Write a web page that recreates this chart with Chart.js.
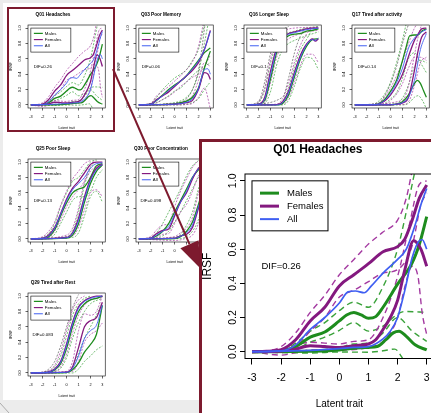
<!DOCTYPE html>
<html>
<head>
<meta charset="utf-8">
<title>IRSF by sex</title>
<script src="https://cdn.jsdelivr.net/npm/chart.js@4.4.1/dist/chart.umd.min.js"></script>
<style>
  html, body { margin: 0; padding: 0; background: #ececec; }
  #stage { position: relative; width: 431px; height: 413px; overflow: hidden; background: #ececec; }
  #sheet { position: absolute; left: 3px; top: 3px; width: 428px; height: 397px; background: #fff; }
  .cell { position: absolute; width: 108px; height: 134px; }
  .cell canvas { filter: blur(0.3px); }
  #pick { position: absolute; left: 7px; top: 7px; width: 104px; height: 121px; border: 2px solid #7d1a2e; }
  #focus { position: absolute; left: 199px; top: 139px; width: 240px; height: 280px;
           border-left: 3px solid #7d1a2e; border-top: 3px solid #7d1a2e; background: #fff; }
  #focus canvas { position: absolute; left: 0; top: 0; }
  #marks { position: absolute; left: 0; top: 0; }
</style>
</head>
<body>
<div id="stage">
  <div id="sheet"></div>
  <div id="cells"></div>
  <div id="pick"></div>
  <div id="focus"><canvas id="big" width="240" height="271"></canvas></div>
  <svg id="marks" width="431" height="413">
    <line x1="113" y1="69" x2="189.5" y2="244.2" stroke="#7d1a2e" stroke-width="2"/>
    <polygon points="200,268 198.6,240.2 180.4,248.2" fill="#7d1a2e"/>
    <line x1="0" y1="403" x2="9" y2="413" stroke="#9a9a9a" stroke-width="0.8"/>
  </svg>
</div>
<script>
// axis ticks shared by every panel
const xTicks = [-3, -2, -1, 0, 1, 2, 3];
const yTicks = [0, 0.2, 0.4, 0.6, 0.8, 1.0];
const groupNames = ['Males', 'Females', 'All'];

const itemTitles = ['Q01 Headaches', 'Q03 Poor Memory', 'Q16 Longer Sleep', 'Q17 Tired after activity',
                    'Q25 Poor Sleep', 'Q30 Poor Concentration', 'Q29 Tired after Rest'];
const difLabels = ['DIF=0.26', 'DIF=0.06', 'DIF=0.1', 'DIF=0.14', 'DIF=0.13', 'DIF=0.098', 'DIF=0.083'];

// each curve is a list of [latent trait, IRSF] points; two curves per group (upper / lower step)
const q01Males = [
  [[-3,0],[-2.5,0.001],[-2,0.006],[-1.5,0.03],[-1,0.085],[-0.5,0.115],[0,0.18],[0.25,0.215],[0.5,0.23],[0.75,0.215],[1,0.195],[1.25,0.205],[1.5,0.26],[2,0.395],[2.5,0.52],[2.75,0.63],[3,0.79]],
  [[-3,0],[-1,0.002],[0,0.01],[0.5,0.02],[1,0.025],[1.3,0.03],[1.6,0.07],[1.85,0.11],[2.05,0.12],[2.3,0.09],[2.6,0.04],[3,0.01]]
];
const q01Females = [
  [[-3,0],[-2.5,0.002],[-2,0.012],[-1.5,0.07],[-1,0.18],[-0.5,0.26],[0,0.385],[0.5,0.45],[1,0.515],[1.5,0.585],[2,0.615],[2.25,0.66],[2.5,0.77],[2.75,0.9],[3,0.975]],
  [[-3,0],[-2,0.004],[-1.5,0.015],[-1,0.035],[-0.5,0.03],[0,0.025],[0.5,0.035],[1,0.045],[1.25,0.07],[1.5,0.13],[1.75,0.2],[2,0.3],[2.25,0.48],[2.55,0.65],[2.8,0.6],[3,0.5]]
];
const q01All = [
  [[-3,0],[-2,0.005],[-1.5,0.04],[-1,0.13],[-0.5,0.2],[0,0.285],[0.3,0.35],[0.55,0.355],[0.85,0.345],[1.1,0.385],[1.5,0.46],[2,0.54],[2.3,0.6],[2.6,0.74],[2.8,0.86],[3,0.955]],
  [[-3,0],[-1,0.008],[0,0.018],[0.5,0.025],[1,0.03],[1.5,0.075],[1.75,0.12],[2,0.2],[2.25,0.36],[2.5,0.55],[2.75,0.65],[2.85,0.655],[3,0.6]]
];
const q01MalesCI = [
  [[-3,0],[-2,0.006],[-1.5,0.05],[-1,0.12],[-0.5,0.17],[0,0.24],[0.5,0.29],[1,0.26],[1.5,0.38],[2,0.6],[2.3,0.82],[2.6,1.06]],
  [[-3,0],[-2,0],[-1.5,0.015],[-1,0.055],[-0.5,0.085],[0,0.125],[0.5,0.17],[1,0.12],[1.5,0.15],[2,0.22],[2.25,0.235],[3,0.23]],
  [[-3,0],[-1,0.006],[0,0.025],[0.5,0.045],[1,0.05],[1.5,0.11],[2,0.2],[2.5,0.12],[3,0.06]],
  [[-3,0],[-1,-0.008],[0,-0.002],[1,-0.003],[1.5,0.005],[1.9,0.015],[2.25,-0.06]]
];
const q01FemalesCI = [
  [[-3,0],[-2.5,0.005],[-2,0.03],[-1.5,0.11],[-1,0.23],[-0.5,0.33],[0,0.45],[0.5,0.54],[1,0.63],[1.5,0.7],[2,0.77],[2.3,0.9],[2.5,1.06]],
  [[-3,0],[-2,-0.005],[-1.5,0.03],[-1,0.12],[-0.5,0.2],[0,0.32],[0.5,0.36],[1,0.41],[1.5,0.46],[2,0.48],[2.5,0.62],[2.8,0.86],[3,0.93]],
  [[-3,0],[-2,0.012],[-1,0.055],[0,0.045],[0.5,0.06],[1,0.07],[1.5,0.2],[2,0.44],[2.4,0.74],[2.75,0.98],[3,1.0]],
  [[-3,0],[-2,-0.02],[-1,0.01],[0,0.01],[1,0.025],[1.5,0.06],[2,0.2],[2.25,0.38],[2.5,0.5],[2.7,0.44],[2.85,0.22],[3,0.1]]
];
const q01AllCI = [];

const q03Males = [
  [[-3,0],[-2,0.01],[-1.5,0.06],[-1,0.13],[-0.5,0.2],[0,0.26],[0.5,0.31],[1,0.38],[1.5,0.48],[2,0.58],[2.5,0.68],[3,0.74]],
  [[-3,0],[-1,0.005],[0,0.015],[0.5,0.03],[1,0.05],[1.5,0.1],[2,0.22],[2.5,0.48],[3,0.7]]
];
const q03Females = [
  [[-3,0],[-2,0.01],[-1.5,0.07],[-1,0.12],[-0.5,0.17],[0,0.24],[0.5,0.31],[1,0.38],[1.5,0.45],[2,0.55],[2.5,0.72],[3,0.97]],
  [[-3,0],[-1,0.005],[0,0.01],[1,0.03],[1.5,0.06],[2,0.2],[2.5,0.42],[2.8,0.4],[3,0.33]]
];
const q03All = [
  [[-3,0],[-2,0.01],[-1.5,0.06],[-1,0.12],[-0.5,0.19],[0,0.25],[0.5,0.31],[1,0.38],[1.5,0.47],[2,0.57],[2.5,0.72],[3,0.96]],
  [[-3,0],[-1,0.005],[0,0.01],[1,0.035],[1.5,0.08],[2,0.21],[2.5,0.46],[2.8,0.47],[3,0.4]]
];
const q03MalesCI = [
  [[-3,0],[-2,0.02],[-1.5,0.1],[-1,0.2],[-0.5,0.28],[0,0.35],[0.5,0.4],[1,0.46],[1.5,0.58],[2,0.72],[2.5,1.05]],
  [[-3,0],[-2,0],[-1.5,0.03],[-1,0.07],[-0.5,0.12],[0,0.18],[0.5,0.22],[1,0.3],[1.5,0.38],[2,0.45],[2.5,0.5],[3,0.55]],
  [[-3,0],[0,0.03],[1,0.1],[1.5,0.2],[2,0.42],[2.5,0.8],[2.8,1.05]],
  [[-3,0],[0,0],[1,0.01],[1.5,0.03],[2,0.08],[2.5,0.2],[3,0.3]]
];
const q03FemalesCI = [
  [[-3,0],[-2,0.02],[-1.5,0.12],[-1,0.18],[-0.5,0.24],[0,0.31],[0.5,0.38],[1,0.46],[1.5,0.56],[2,0.76],[2.4,1.05]],
  [[-3,0],[-1.5,0.03],[-1,0.07],[-0.5,0.11],[0,0.17],[0.5,0.24],[1,0.3],[1.5,0.36],[2,0.4],[2.5,0.5],[3,0.65]],
  [[-3,0],[0,0.02],[1,0.06],[1.5,0.12],[2,0.32],[2.5,0.55],[3,0.5]],
  [[-3,0],[0,0],[1,0.005],[1.5,0.02],[2,0.1],[2.5,0.22],[3,-0.05]]
];
const q03AllCI = [
  [[-3,0],[0,0.02],[1,0.08],[1.5,0.2],[2,0.45],[2.3,0.75],[2.55,1.05]]
];

const q16Males = [
  [[-3,0],[-2.5,0],[-2,0.01],[-1.5,0.06],[-1,0.35],[-0.5,0.68],[0,0.84],[0.5,0.9],[1,0.92],[1.5,0.93],[2,0.96],[2.5,0.97],[3,0.99]],
  [[-3,0],[-0.5,0],[0,0.02],[0.5,0.13],[1,0.37],[1.5,0.6],[2,0.76],[2.5,0.85],[3,0.86]]
];
const q16Females = [
  [[-3,0],[-2,0.01],[-1.5,0.1],[-1,0.45],[-0.5,0.74],[0,0.87],[0.5,0.93],[1,0.95],[1.5,0.97],[2,0.99],[2.5,1.0],[3,1.0]],
  [[-3,0],[-0.5,0.005],[0,0.04],[0.5,0.18],[1,0.43],[1.5,0.65],[2,0.79],[2.5,0.86],[2.75,0.83],[3,0.86]]
];
const q16All = [
  [[-3,0],[-2,0.01],[-1.5,0.08],[-1,0.4],[-0.5,0.71],[0,0.86],[0.5,0.92],[1,0.94],[1.5,0.96],[2,0.98],[2.5,0.99],[3,1.0]],
  [[-3,0],[-0.5,0],[0,0.03],[0.5,0.16],[1,0.4],[1.5,0.62],[2,0.78],[2.5,0.85],[2.75,0.84],[3,0.87]]
];
const q16MalesCI = [
  [[-3,0],[-2.5,0.003],[-2,0.03],[-1.5,0.2],[-1,0.55],[-0.5,0.8],[0,0.9],[1,0.96],[2,1.0],[3,1.02]],
  [[-3,0],[-2,0],[-1.5,0.02],[-1,0.18],[-0.5,0.52],[0,0.72],[0.5,0.8],[1,0.84],[2,0.9],[3,0.95]],
  [[-3,0],[-0.5,0.005],[0,0.05],[0.5,0.22],[1,0.5],[1.5,0.72],[2,0.85],[2.5,0.98],[3,1.02]],
  [[-3,0],[0,0],[0.5,0.06],[1,0.25],[1.5,0.48],[2,0.62],[2.5,0.6],[3,0.46]]
];
const q16FemalesCI = [
  [[-3,0],[-2.5,0.005],[-2,0.04],[-1.5,0.22],[-1,0.6],[-0.5,0.85],[0,0.95],[1,1.0],[3,1.01]],
  [[-3,0],[-2,0.002],[-1.5,0.04],[-1,0.3],[-0.5,0.62],[0,0.78],[0.5,0.86],[1,0.9],[2,0.95],[3,0.97]],
  [[-3,0],[-0.5,0.01],[0,0.08],[0.5,0.28],[1,0.56],[1.5,0.78],[2,0.92],[2.5,1.0],[3,1.01]],
  [[-3,0],[0,0.01],[0.5,0.1],[1,0.3],[1.5,0.52],[2,0.66],[2.5,0.66],[3,0.55]]
];
const q16AllCI = [
  [[-3,0],[-2,0.05],[-1.5,0.3],[-1,0.68],[-0.5,0.9],[0,0.98],[0.5,1.02]],
  [[-3,0],[0,0.1],[0.5,0.35],[1,0.68],[1.5,0.9],[2,1.02]]
];

const q17Males = [
  [[-3,0],[-1.5,0.002],[-1,0.015],[-0.5,0.07],[0,0.18],[0.5,0.32],[1,0.58],[1.3,0.75],[1.6,0.9],[2,0.91],[2.3,0.91],[2.6,0.96],[3,0.99]],
  [[-3,0],[0,0.002],[0.5,0.01],[1,0.04],[1.5,0.13],[2,0.28],[2.25,0.32],[2.5,0.28],[2.75,0.19],[3,0.1]]
];
const q17Females = [
  [[-3,0],[-1.5,0.002],[-1,0.01],[-0.5,0.05],[0,0.13],[0.5,0.25],[1,0.4],[1.5,0.63],[2,0.84],[2.3,0.92],[2.6,0.99],[3,1.0]],
  [[-3,0],[0,0.002],[0.5,0.01],[1,0.025],[1.5,0.1],[2,0.45],[2.3,0.7],[2.6,0.88],[3,0.95]]
];
const q17All = [
  [[-3,0],[-1.5,0.002],[-1,0.012],[-0.5,0.06],[0,0.15],[0.5,0.29],[1,0.48],[1.5,0.74],[2,0.87],[2.5,0.94],[3,0.98]],
  [[-3,0],[0,0.002],[0.5,0.01],[1,0.03],[1.5,0.1],[2,0.32],[2.5,0.72],[3,0.93]]
];
const q17MalesCI = [
  [[-3,0],[-1.5,0.005],[-1,0.05],[-0.5,0.14],[0,0.3],[0.5,0.55],[1,0.85],[1.3,1.05]],
  [[-3,0],[-1,0],[-0.5,0.02],[0,0.08],[0.5,0.16],[1,0.35],[1.5,0.6],[2,0.68],[2.5,0.55],[3,0.42]],
  [[-3,0],[0.5,0.02],[1,0.09],[1.5,0.26],[2,0.5],[2.5,0.58],[3,0.55]],
  [[-3,0],[1,0],[1.5,0.02],[2,0.1],[2.3,0.12],[2.7,0.05],[3,-0.05]]
];
const q17FemalesCI = [
  [[-3,0],[-1,0.02],[-0.5,0.1],[0,0.22],[0.5,0.38],[1,0.56],[1.5,0.8],[2,1.0],[2.2,1.05]],
  [[-3,0],[-0.5,0.01],[0,0.06],[0.5,0.14],[1,0.28],[1.5,0.48],[2,0.62],[2.5,0.62],[3,0.58]],
  [[-3,0],[1,0.06],[1.5,0.25],[2,0.65],[2.3,0.88],[2.6,1.05]],
  [[-3,0],[1,0.005],[1.5,0.04],[2,0.25],[2.5,0.55],[3,0.62]]
];
const q17AllCI = [
  [[-3,0],[-1,0.03],[-0.5,0.12],[0,0.28],[0.5,0.5],[1,0.8],[1.5,1.05]]
];

const q25Males = [
  [[-3,0],[-2,0.005],[-1.5,0.03],[-1,0.12],[-0.5,0.3],[0,0.47],[0.5,0.6],[1,0.65],[1.5,0.68],[2,0.8],[2.5,0.95],[3,0.98]],
  [[-3,0],[0,0.01],[0.5,0.05],[1,0.2],[1.5,0.48],[2,0.72],[2.5,0.88],[3,0.96]]
];
const q25Females = [
  [[-3,0],[-2,0.01],[-1.5,0.05],[-1,0.15],[-0.5,0.33],[0,0.52],[0.5,0.66],[1,0.75],[1.5,0.86],[2,0.97],[2.5,1.0],[3,1.0]],
  [[-3,0],[0,0.02],[0.5,0.08],[1,0.27],[1.5,0.55],[2,0.78],[2.5,0.92],[3,0.97]]
];
const q25All = [
  [[-3,0],[-2,0.008],[-1.5,0.04],[-1,0.14],[-0.5,0.32],[0,0.5],[0.5,0.64],[1,0.72],[1.5,0.8],[2,0.92],[2.5,0.98],[3,0.99]],
  [[-3,0],[0,0.015],[0.5,0.07],[1,0.24],[1.5,0.52],[2,0.76],[2.5,0.9],[3,0.97]]
];
const q25MalesCI = [
  [[-3,0],[-2,0.02],[-1.5,0.07],[-1,0.2],[-0.5,0.42],[0,0.6],[0.5,0.75],[1,0.8],[1.5,0.9],[2,1.0],[2.5,1.03]],
  [[-3,0],[-1.5,0.01],[-1,0.06],[-0.5,0.2],[0,0.35],[0.5,0.5],[1,0.55],[1.5,0.55],[2,0.62],[2.5,0.8],[3,0.9]],
  [[-3,0],[0,0.03],[0.5,0.1],[1,0.35],[1.5,0.7],[2,0.92],[2.5,1.02]],
  [[-3,0],[0.5,0.02],[1,0.08],[1.5,0.3],[2,0.55],[2.5,0.62],[3,0.48]]
];
const q25FemalesCI = [
  [[-3,0],[-2,0.03],[-1.5,0.1],[-1,0.22],[-0.5,0.44],[0,0.62],[0.5,0.78],[1,0.88],[1.5,0.98],[2,1.02]],
  [[-3,0],[-1.5,0.02],[-1,0.1],[-0.5,0.25],[0,0.42],[0.5,0.55],[1,0.64],[1.5,0.75],[2,0.88],[2.5,0.95],[3,0.97]],
  [[-3,0],[0,0.05],[0.5,0.14],[1,0.4],[1.5,0.75],[2,0.95],[2.3,1.02]],
  [[-3,0],[0.5,0.04],[1,0.15],[1.5,0.38],[2,0.6],[2.5,0.64],[3,0.55]]
];
const q25AllCI = [];

const q30Males = [
  [[-3,0],[-2,0.005],[-1.5,0.04],[-1,0.1],[-0.5,0.2],[0,0.35],[0.5,0.5],[1,0.65],[1.5,0.8],[2,0.9],[2.5,0.96],[3,0.99]],
  [[-3,0],[0,0.005],[0.5,0.03],[1,0.1],[1.5,0.22],[2,0.45],[2.5,0.7],[3,0.85]]
];
const q30Females = [
  [[-3,0],[-2,0.01],[-1.5,0.07],[-1,0.11],[-0.5,0.13],[0,0.3],[0.5,0.48],[1,0.6],[1.5,0.78],[2,0.92],[2.5,0.98],[3,1.0]],
  [[-3,0],[0,0.01],[0.5,0.04],[1,0.06],[1.5,0.15],[2,0.4],[2.5,0.65],[3,0.8]]
];
const q30All = [
  [[-3,0],[-2,0.01],[-1.5,0.05],[-1,0.1],[-0.5,0.16],[0,0.32],[0.5,0.48],[1,0.62],[1.5,0.8],[2,0.91],[2.5,0.97],[3,1.0]],
  [[-3,0],[0,0.008],[0.5,0.035],[1,0.08],[1.5,0.18],[2,0.42],[2.5,0.68],[3,0.82]]
];
const q30MalesCI = [
  [[-3,0],[-2,0.02],[-1.5,0.08],[-1,0.2],[-0.5,0.35],[0,0.5],[0.5,0.65],[1,0.82],[1.5,0.95],[2,1.02]],
  [[-3,0],[-1.5,0.01],[-1,0.04],[-0.5,0.1],[0,0.22],[0.5,0.35],[1,0.5],[1.5,0.65],[2,0.8],[2.5,0.88],[3,0.9]],
  [[-3,0],[0,0.02],[0.5,0.06],[1,0.18],[1.5,0.35],[2,0.65],[2.5,0.9],[3,1.0]],
  [[-3,0],[0.5,0.005],[1,0.03],[1.5,0.1],[2,0.25],[2.5,0.5],[3,0.65]]
];
const q30FemalesCI = [
  [[-3,0],[-2,0.03],[-1.5,0.12],[-1,0.18],[-0.5,0.2],[0,0.42],[0.5,0.62],[1,0.78],[1.5,0.93],[2,1.02]],
  [[-3,0],[-1.5,0.02],[-1,0.06],[-0.5,0.07],[0,0.2],[0.5,0.35],[1,0.45],[1.5,0.62],[2,0.82],[2.5,0.93]],
  [[-3,0],[0,0.03],[0.5,0.08],[1,0.14],[1.5,0.28],[2,0.6],[2.5,0.85],[3,0.95]],
  [[-3,0],[0,-0.02],[1,0.01],[1.5,0.05],[2,0.2],[2.5,0.45],[3,0.62]]
];
const q30AllCI = [];

const q29Males = [
  [[-3,0],[-2,0.003],[-1.5,0.01],[-1,0.04],[-0.5,0.12],[0,0.32],[0.5,0.6],[1,0.8],[1.5,0.9],[2,0.95],[2.5,0.97],[3,1.0]],
  [[-3,0],[0,0.005],[0.5,0.04],[1,0.13],[1.5,0.27],[2,0.37],[2.5,0.5],[3,0.88]]
];
const q29Females = [
  [[-3,0],[-2,0.005],[-1.5,0.015],[-1,0.05],[-0.5,0.15],[0,0.38],[0.5,0.66],[1,0.86],[1.5,0.94],[2,0.98],[2.5,1.0],[3,1.0]],
  [[-3,0],[0,0.01],[0.5,0.08],[1,0.33],[1.5,0.6],[2,0.68],[2.5,0.72],[3,0.92]]
];
const q29All = [
  [[-3,0],[-2,0.004],[-1.5,0.012],[-1,0.045],[-0.5,0.14],[0,0.36],[0.5,0.64],[1,0.84],[1.5,0.93],[2,0.97],[2.5,0.99],[3,1.0]],
  [[-3,0],[0,0.008],[0.5,0.06],[1,0.22],[1.5,0.45],[2,0.55],[2.5,0.62],[3,0.88]]
];
const q29MalesCI = [
  [[-3,0],[-1.5,0.02],[-1,0.08],[-0.5,0.22],[0,0.48],[0.5,0.75],[1,0.9],[1.5,0.97],[2,1.0]],
  [[-3,0],[-1,0.02],[-0.5,0.06],[0,0.2],[0.5,0.45],[1,0.66],[1.5,0.8],[2,0.9],[3,0.97]],
  [[-3,0],[0,0.01],[0.5,0.06],[1,0.25],[1.5,0.45],[2,0.6],[2.5,0.75],[3,0.92]],
  [[-3,0],[0.5,0],[1,0.05],[1.5,0.15],[2,0.22],[2.5,0.3],[3,0.35]]
];
const q29FemalesCI = [
  [[-3,0],[-1.5,0.03],[-1,0.1],[-0.5,0.28],[0,0.55],[0.5,0.82],[1,0.95],[1.5,1.0]],
  [[-3,0],[-1,0.02],[-0.5,0.08],[0,0.25],[0.5,0.52],[1,0.75],[1.5,0.88],[2,0.95],[3,0.98]],
  [[-3,0],[0,0.02],[0.5,0.15],[1,0.55],[1.5,0.77],[2,0.75],[2.5,0.8],[3,1.0]],
  [[-3,0],[0.5,0.02],[1,0.15],[1.5,0.4],[2,0.5],[2.5,0.55],[3,0.65]]
];
const q29AllCI = [
  [[-3,0],[-2,0.01],[-1.5,0.05],[-1,0.15],[-0.5,0.35],[0,0.6],[0.5,0.85],[1,1.02]]
];

// ---- styling ----
const FONT = '"Liberation Sans", Arial, Helvetica, sans-serif';
const GREEN = '#1e8c1e', PURPLE = '#84197f', BLUE = '#3f5ff2';
const GREEN_D = '#3aa23a', PURPLE_D = '#a43aa1', GREY_D = '#5a5a5a';
const groupColors = [GREEN, PURPLE, BLUE];

Chart.defaults.font.family = FONT;
Chart.defaults.color = '#000';

// pixel sizes for the thumbnails and for the enlarged panel
const SMALL = {
  titleSize: 4.7, titleTop: 12, titleBottom: 8.3, padRight: 2,
  yW: 28, xH: 26, tickY: 2.5, tickX: 2.5, tickFont: 3.8, yPad: 2.85, xPad: 4.5,
  xTitleSize: 3.4, xTitlePad: 4.6, yTitleSize: 4, yTitlePad: 8.5,
  box: 0.6, thick: 1.3, thin: 0.9, dashW: 0.7, dash: [2, 1.4],
  legend: { w: 40, h: 24, l0: 3, l1: 12, tx: 14, row0: 5.3, step: 6.2, font: 4.3, lw: [1.2, 1.2, 1] },
  difFont: 4.4
};
const BIG = {
  titleSize: 12, titleTop: 1.5, titleBottom: 18.5, padRight: 8.3,
  yW: 43, xH: 54.5, tickY: 5, tickX: 6, tickFont: 10.5, yPad: 0, xPad: 7.2,
  xTitleSize: 10, xTitlePad: 4, yTitleSize: 12, yTitlePad: 0,
  box: 1, thick: 3, thin: 1.7, dashW: 1.4, dash: [6, 4],
  legend: { w: 76, h: 50, l0: 8, l1: 27, tx: 35, row0: 12.3, step: 13, font: 9.5, lw: [3, 3, 2] },
  difFont: 9.5
};

// box round the plot region, legend in the top-left corner, DIF note
const rFrame = {
  id: 'rFrame',
  afterDatasetsDraw(chart, args, opts) {
    const { ctx, chartArea: a, scales: { x, y } } = chart;
    const s = opts.size;
    ctx.save();
    ctx.strokeStyle = '#000';
    ctx.lineWidth = s.box;
    ctx.strokeRect(a.left, a.top, a.right - a.left, a.bottom - a.top);

    const L = s.legend;
    const lx = x.getPixelForValue(-3), ly = y.getPixelForValue(1);
    ctx.fillStyle = '#fff';
    ctx.fillRect(lx, ly, L.w, L.h);
    ctx.strokeRect(lx, ly, L.w, L.h);
    ctx.font = L.font + 'px ' + FONT;
    ctx.textBaseline = 'middle';
    ctx.textAlign = 'left';
    groupNames.forEach((name, i) => {
      const yy = ly + L.row0 + i * L.step;
      ctx.strokeStyle = groupColors[i];
      ctx.lineWidth = L.lw[i];
      ctx.beginPath();
      ctx.moveTo(lx + L.l0, yy);
      ctx.lineTo(lx + L.l1, yy);
      ctx.stroke();
      ctx.fillStyle = '#000';
      ctx.fillText(name, lx + L.tx, yy);
    });

    ctx.font = s.difFont + 'px ' + FONT;
    ctx.textAlign = 'center';
    ctx.fillText(opts.dif, x.getPixelForValue(-2), y.getPixelForValue(0.5));
    ctx.restore();
  }
};

function curveSet(list, color, width, dash) {
  return list.map(pts => ({
    data: pts,
    borderColor: color,
    borderWidth: width,
    borderDash: dash || [],
    pointRadius: 0,
    fill: false,
    cubicInterpolationMode: 'monotone'
  }));
}

function makePanel(canvas, p, s) {
  // first dataset is painted last, so solid "All" sits on top and the dashed bands underneath
  const datasets = [].concat(
    curveSet(p.all, BLUE, s.thin),
    curveSet(p.females, PURPLE, s.thick),
    curveSet(p.males, GREEN, s.thick),
    curveSet(p.allCI, GREY_D, s.dashW, s.dash),
    curveSet(p.femalesCI, PURPLE_D, s.dashW, s.dash),
    curveSet(p.malesCI, GREEN_D, s.dashW, s.dash)
  );
  return new Chart(canvas, {
    type: 'line',
    data: { datasets },
    plugins: [rFrame],
    options: {
      responsive: false,
      animation: false,
      events: [],
      layout: { padding: { left: 0, top: 0, right: s.padRight, bottom: 0 } },
      plugins: {
        legend: { display: false },
        tooltip: { enabled: false },
        title: {
          display: true, text: p.title, color: '#000',
          font: { size: s.titleSize, weight: 'bold', lineHeight: 1 },
          padding: { top: s.titleTop, bottom: s.titleBottom }
        },
        rFrame: { size: s, dif: p.dif }
      },
      scales: {
        x: {
          type: 'linear', min: -3.24, max: 3.24,
          afterBuildTicks: sc => { sc.ticks = xTicks.map(v => ({ value: v })); },
          afterFit: sc => { sc.height = s.xH; },
          grid: { drawOnChartArea: false, drawTicks: true, tickLength: s.tickX, color: '#000', lineWidth: s.box },
          border: { display: false },
          ticks: { autoSkip: false, maxRotation: 0, padding: s.xPad, color: '#000',
                   font: { size: s.tickFont }, callback: v => String(v) },
          title: { display: true, text: 'Latent trait', color: '#000',
                   font: { size: s.xTitleSize, lineHeight: 1 }, padding: { top: 0, bottom: s.xTitlePad } }
        },
        y: {
          type: 'linear', min: -0.04, max: 1.04,
          afterBuildTicks: sc => { sc.ticks = yTicks.map(v => ({ value: v })); },
          afterFit: sc => { sc.width = s.yW; },
          grid: { drawOnChartArea: false, drawTicks: true, tickLength: s.tickY, color: '#000', lineWidth: s.box },
          border: { display: false },
          ticks: { autoSkip: false, minRotation: 90, maxRotation: 90, crossAlign: 'center',
                   padding: s.yPad, color: '#000', font: { size: s.tickFont }, callback: v => v.toFixed(1) },
          title: { display: true, text: 'IRSF', color: '#000',
                   font: { size: s.yTitleSize, lineHeight: 1 }, padding: { top: s.yTitlePad, bottom: 0 } }
        }
      }
    }
  });
}

const panels = [
  { males: q01Males, females: q01Females, all: q01All, malesCI: q01MalesCI, femalesCI: q01FemalesCI, allCI: q01AllCI },
  { males: q03Males, females: q03Females, all: q03All, malesCI: q03MalesCI, femalesCI: q03FemalesCI, allCI: q03AllCI },
  { males: q16Males, females: q16Females, all: q16All, malesCI: q16MalesCI, femalesCI: q16FemalesCI, allCI: q16AllCI },
  { males: q17Males, females: q17Females, all: q17All, malesCI: q17MalesCI, femalesCI: q17FemalesCI, allCI: q17AllCI },
  { males: q25Males, females: q25Females, all: q25All, malesCI: q25MalesCI, femalesCI: q25FemalesCI, allCI: q25AllCI },
  { males: q30Males, females: q30Females, all: q30All, malesCI: q30MalesCI, femalesCI: q30FemalesCI, allCI: q30AllCI },
  { males: q29Males, females: q29Females, all: q29All, malesCI: q29MalesCI, femalesCI: q29FemalesCI, allCI: q29AllCI }
];
panels.forEach((p, i) => { p.title = itemTitles[i]; p.dif = difLabels[i]; });

// thumbnail grid positions (left, top)
const cellPos = [[0, 0], [108, 0], [216, 0], [324, 0], [0, 134], [108, 134], [0, 268]];

const cells = document.getElementById('cells');
panels.forEach((p, i) => {
  const div = document.createElement('div');
  div.className = 'cell';
  div.style.left = cellPos[i][0] + 'px';
  div.style.top = cellPos[i][1] + 'px';
  const cv = document.createElement('canvas');
  cv.width = 108;
  cv.height = 134;
  div.appendChild(cv);
  cells.appendChild(div);
  makePanel(cv, p, SMALL);
});

// enlarged Q01
makePanel(document.getElementById('big'), panels[0], BIG);
</script>
</body>
</html>
